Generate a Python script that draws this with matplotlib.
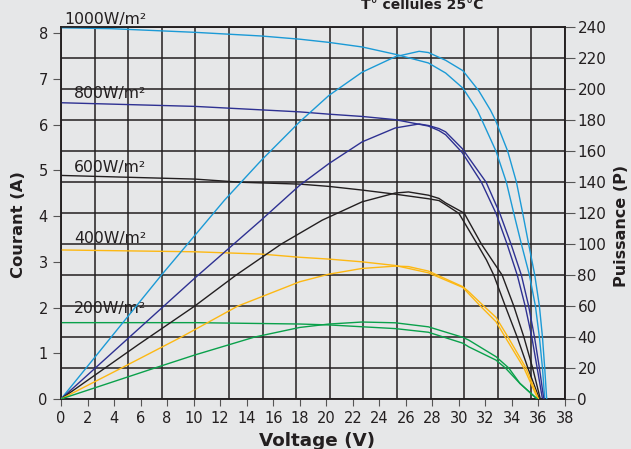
import matplotlib.pyplot as plt
import matplotlib.transforms as mtransforms
import numpy as np

# Courbes I-V (axe gauche, A) et P-V (axe droit, W) par irradiance
v_i1000 = [0, 3.8, 10.1, 15.09, 18.0, 20.2, 22.7, 25.2, 27.7, 29.0, 30.3, 31.38, 31.75, 32.8,
           33.58, 34.14, 34.71, 35.32, 35.77, 36.07, 36.3, 36.47]
i1000 = [8.12, 8.10, 8.02, 7.94, 7.87, 7.80, 7.70, 7.54, 7.35, 7.13, 6.80, 6.32, 6.09, 5.42,
         4.74, 4.06, 3.39, 2.71, 2.03, 1.35, 0.68, 0]
v_p1000 = [0, 7.57, 12.33, 15.09, 18.0, 20.2, 22.7, 25.2, 27.0, 27.7, 29.0, 30.3, 31.5, 32.38,
           32.76, 33.68, 34.34, 34.81, 35.26, 35.72, 36.07, 36.3, 36.47, 36.62]
p1000 = [0, 80, 128.4, 154, 179, 196, 211, 221, 224.5, 223.7, 218.7, 212, 199, 186.5,
         180, 160, 140, 120, 100, 80, 60, 40, 20, 0]

v_i800 = [0, 10.1, 18.0, 20.2, 22.7, 25.2, 27.7, 28.5, 29.0, 30.25, 31.7, 32.8, 33.63, 34.4,
          35.0, 35.5, 35.9, 36.3]
i800 = [6.48, 6.40, 6.28, 6.23, 6.18, 6.11, 5.97, 5.87, 5.78, 5.39, 4.74, 4.06, 3.39, 2.71,
        2.03, 1.35, 0.68, 0]
v_p800 = [0, 10.08, 15.09, 18.0, 20.2, 22.7, 25.2, 27.0, 27.7, 28.5, 29.0, 30.25, 32.05, 33.08,
          33.93, 34.71, 35.26, 35.7, 36.07, 36.4]
p800 = [0, 78, 115.5, 138, 152, 166, 175, 177.6, 176.6, 174.6, 172.5, 161.7, 140, 120,
        100, 80, 60, 40, 20, 0]

v_i600 = [0, 10.1, 13.6, 18.0, 20.2, 22.7, 25.2, 27.7, 28.5, 29.0, 30.0, 31.38, 32.08, 32.63,
          33.5, 34.4, 35.2, 36.07]
i600 = [4.89, 4.81, 4.74, 4.70, 4.65, 4.57, 4.48, 4.38, 4.34, 4.25, 4.06, 3.39, 3.04, 2.71,
        2.03, 1.35, 0.68, 0]
v_p600 = [0, 5.81, 10.08, 13.2, 16.6, 19.7, 22.7, 25.2, 26.2, 27.7, 28.5, 29.0, 30.4, 31.7,
          32.5, 33.26, 34.14, 34.9, 35.56, 36.14]
p600 = [0, 35, 60, 80, 100, 115.5, 127.3, 133, 133.7, 131.6, 129.5, 126.6, 120, 100,
        89.7, 80, 60, 40, 20, 0]

v_i400 = [0, 10.08, 15.09, 18.0, 20.2, 22.7, 25.2, 27.7, 30.3, 30.75, 31.63, 32.8, 33.5, 34.9, 35.96]
i400 = [3.26, 3.22, 3.17, 3.10, 3.06, 3.00, 2.92, 2.76, 2.44, 2.30, 2.03, 1.69, 1.35, 0.68, 0]
v_p400 = [0, 4.56, 9.07, 13.33, 18.0, 20.2, 22.7, 25.2, 26.2, 27.7, 30.3, 30.75, 31.88, 32.8,
          33.7, 35.06, 36.0]
p400 = [0, 20, 40, 60, 75.7, 80.6, 84.3, 85.8, 85.5, 82.6, 72.5, 69.2, 60, 52.7,
        40, 20, 0]

v_i200 = [0, 10.08, 18.0, 20.2, 22.7, 25.2, 27.7, 30.3, 30.75, 32.8, 33.5, 34.6, 35.9]
i200 = [1.67, 1.67, 1.64, 1.62, 1.58, 1.54, 1.46, 1.22, 1.14, 0.85, 0.68, 0.34, 0]
v_p200 = [0, 7.07, 10.08, 14.6, 18.0, 20.2, 22.7, 25.2, 27.7, 30.3, 30.75, 32.8, 33.76, 34.6, 35.9]
p200 = [0, 20, 28.4, 40, 46.2, 48.4, 49.7, 49.2, 46.6, 39.8, 38, 27.3, 20, 10.1, 0]

labels = ['1000W/m²', '800W/m²', '600W/m²', '400W/m²', '200W/m²']
label_x = [0.26, 0.98, 0.98, 0.98, 0.98]
label_y = [8.2, 6.58, 4.97, 3.42, 1.875]

BG = '#e6e7e8'
INK = '#231f20'
colors = ['#1b9ad6', '#2e3192', '#231f20', '#fdb813', '#0aa14b']

fig = plt.figure(figsize=(6.31, 4.49), dpi=100, facecolor=BG)
ax = fig.add_axes([61 / 631, 50 / 449, 504 / 631, 371.7 / 449], facecolor=BG)
ax2 = ax.twinx()

# grille : verticales tous les 38/15 V, horizontales sur les graduations de droite
for x in np.linspace(0, 38, 16):
    ax.axvline(x, color=INK, lw=1.1, zorder=1)
trans = mtransforms.blended_transform_factory(ax.transAxes, ax2.transData)
for p in range(0, 241, 20):
    ax.plot([0, 1], [p, p], transform=trans, color=INK, lw=1.1, zorder=1)

i_curves = [(v_i1000, i1000), (v_i800, i800), (v_i600, i600), (v_i400, i400), (v_i200, i200)]
p_curves = [(v_p1000, p1000), (v_p800, p800), (v_p600, p600), (v_p400, p400), (v_p200, p200)]
for (vi, ii), (vp, pp), c in zip(i_curves, p_curves, colors):
    ax.plot(vi, ii, color=c, lw=1.0, zorder=3, solid_joinstyle='round')
    ax2.plot(vp, pp, color=c, lw=1.0, zorder=3, solid_joinstyle='round')

for t, x, y in zip(labels, label_x, label_y):
    ax.text(x, y, t, fontsize=11.3, color=INK, va='baseline', ha='left', clip_on=False, zorder=4)

ax.set_xlim(0, 38)
ax.set_xticks(range(0, 39, 2))
ax.set_ylim(0, 8.13)
ax.set_yticks(range(0, 9))
ax2.set_ylim(0, 240)
ax2.set_yticks(range(0, 241, 20))

ax.tick_params(axis='x', direction='out', length=5, width=0.8, color='#555555',
               pad=3.8, labelsize=10.5, labelcolor=INK)
ax.tick_params(axis='y', direction='out', length=6, width=0.8, color='#555555',
               pad=3.5, labelsize=10.5, labelcolor=INK)
ax2.tick_params(axis='y', direction='out', length=7, width=0.8, color='#555555',
                pad=2, labelsize=11, labelcolor=INK)

for a in (ax, ax2):
    for s in a.spines.values():
        s.set_color(INK)
        s.set_linewidth(1.1)

fig.text(422.5 / 631, 1 - 9.3 / 449, 'T° cellules 25°C', ha='center', va='baseline',
         fontsize=10, fontweight='bold', color=INK)
fig.text(316.7 / 631, 2.5 / 449, 'Voltage (V)', ha='center', va='baseline',
         fontsize=13.2, fontweight='bold', color=INK)
fig.text(19 / 631, 1 - 225 / 449, 'Courant (A)', rotation=90, ha='center', va='center',
         fontsize=11.8, fontweight='bold', color=INK)
fig.text(621.5 / 631, 1 - 226 / 449, 'Puissance (P)', rotation=90, ha='center', va='center',
         fontsize=11.5, fontweight='bold', color=INK)

fig.savefig('out.png', dpi=100, facecolor=BG)
